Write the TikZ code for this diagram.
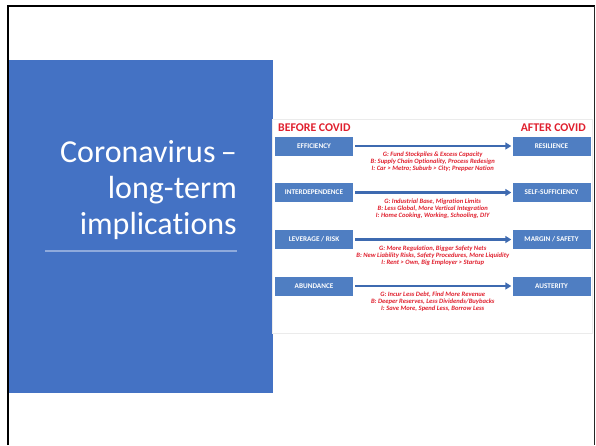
\documentclass[tikz,border=0pt]{standalone}
\usepackage{fontspec}
\setmainfont{Carlito}[Ligatures={TeX,NoCommon}]
\usetikzlibrary{arrows.meta}

\definecolor{slideblue}{HTML}{4472C4}
\definecolor{boxblue}{HTML}{4F7EC2}
\definecolor{arrowblue}{HTML}{3E6AB0}
\definecolor{covidred}{HTML}{E0202E}
\definecolor{rulelight}{HTML}{8FAADC}

\tikzset{
  statebox/.style={fill=boxblue, text=white, font=\fontsize{7.2}{8}\selectfont\bfseries,
    minimum width=78pt, minimum height=19pt, inner sep=0pt},
  changearrow/.style={arrowblue, line width=2.6pt, shorten <=2pt, shorten >=1pt,
    -{Triangle[length=6pt, width=7pt]}},
  effects/.style={text=covidred, font=\fontsize{6.6}{7}\selectfont\bfseries\itshape,
    align=center, anchor=north, inner sep=0pt, yshift=-5pt},
  era/.style={text=covidred, font=\fontsize{11.8}{13}\selectfont\bfseries, inner sep=0pt}
}

\begin{document}
\begin{tikzpicture}[x=1pt, y=-1pt]
  % Slide
  \fill[white] (0,0) rectangle (596,445);
  \useasboundingbox (0,0) rectangle (596,445);
  \draw[line width=2pt] (8,445) -- (8,6) -- (595,6);
  \draw[line width=1pt, black!85] (594.5,6) -- (594.5,445);

  % Title panel
  \fill[slideblue] (9,60) rectangle (273,393);
  \node[anchor=north east, align=right, text=white, inner sep=0pt,
        font=\fontsize{32}{36}\selectfont] (title) at (237,140)
    {Coronavirus\,--\\long-term\\implications};
  \draw[rulelight, line width=1.5pt] (45,251) -- (237,251);

  % Picture
  \fill[white, draw=black!8, line width=0.5pt] (272,119) rectangle (592,333);
  \node[era, anchor=west] (before) at (278,128) {BEFORE COVID};
  \node[era, anchor=east] (after) at (586,128) {AFTER COVID};

  % Efficiency -> Resilience
  \node[statebox] (eff) at (314,146) {EFFICIENCY};
  \node[statebox] (res) at (551.5,146) {RESILIENCE};
  \draw[changearrow] (eff) -- node[effects] {G: Fund Stockpiles \& Excess Capacity\\
    B: Supply Chain Optionality, Process Redesign\\
    I: Car > Metro; Suburb > City; Prepper Nation} (res);

  % Interdependence -> Self-sufficiency
  \node[statebox] (inter) at (314,192.5) {INTERDEPENDENCE};
  \node[statebox] (self) at (551.5,192.5) {SELF-SUFFICIENCY};
  \draw[changearrow] (inter) -- node[effects] {G: Industrial Base, Migration Limits\\
    B: Less Global, More Vertical Integration\\
    I: Home Cooking, Working, Schooling, DIY} (self);

  % Leverage -> Margin
  \node[statebox] (lev) at (314,239.5) {LEVERAGE / RISK};
  \node[statebox] (marg) at (551.5,239.5) {MARGIN / SAFETY};
  \draw[changearrow] (lev) -- node[effects] {G: More Regulation, Bigger Safety Nets\\
    B: New Liability Risks, Safety Procedures, More Liquidity\\
    I: Rent > Own, Big Employer > Startup} (marg);

  % Abundance -> Austerity
  \node[statebox] (abund) at (314,286) {ABUNDANCE};
  \node[statebox] (aust) at (551.5,286) {AUSTERITY};
  \draw[changearrow] (abund) -- node[effects] {G: Incur Less Debt, Find More Revenue\\
    B: Deeper Reserves, Less Dividends/Buybacks\\
    I: Save More, Spend Less, Borrow Less} (aust);
\end{tikzpicture}
\end{document}
